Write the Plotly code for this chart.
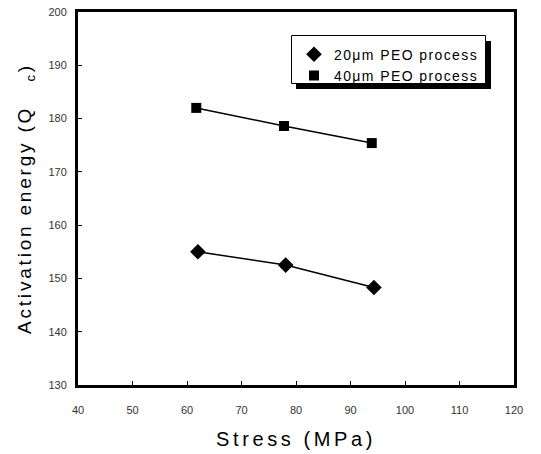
import plotly.graph_objects as go

# ---- data ----
stress_20 = [62.0, 78.1, 94.3]
q_20 = [155.0, 152.5, 148.3]
stress_40 = [61.7, 77.8, 93.9]
q_40 = [182.0, 178.6, 175.4]
name_20 = "20μm PEO process"
name_40 = "40μm PEO process"
x_ticks = [40, 50, 60, 70, 80, 90, 100, 110, 120]
y_ticks = [130, 140, 150, 160, 170, 180, 190, 200]

W, H = 541, 454
ML, MR, MT, MB = 78, 27, 12, 69
PW, PH = W - ML - MR, H - MT - MB


def px(x):
    return (x - ML) / PW


def py(y):
    return 1 - (y - MT) / PH


FONT = "Liberation Sans, Arial, sans-serif"
LEG = '<span style="letter-spacing:1.4px">%s</span>'

fig = go.Figure()
# lines
fig.add_trace(go.Scatter(x=stress_20, y=q_20, mode="lines", line=dict(color="black", width=1.5),
                         showlegend=False, hoverinfo="skip"))
fig.add_trace(go.Scatter(x=stress_40, y=q_40, mode="lines", line=dict(color="black", width=1.5),
                         showlegend=False, hoverinfo="skip"))
# markers
fig.add_trace(go.Scatter(x=stress_20, y=q_20, mode="markers", name=LEG % name_20,
                         marker=dict(symbol="diamond", size=12, color="black")))
fig.add_trace(go.Scatter(x=stress_40, y=q_40, mode="markers", name=LEG % name_40,
                         marker=dict(symbol="square", size=10, color="black")))

shapes = [
    dict(type="rect", xref="paper", yref="paper", x0=px(296), x1=px(491), y0=py(89), y1=py(41),
         fillcolor="black", line=dict(width=0), layer="above"),
    dict(type="rect", xref="paper", yref="paper", x0=px(291.5), x1=px(485.5), y0=py(83.5), y1=py(35.5),
         fillcolor="white", line=dict(color="black", width=1), layer="above"),
]

axis_common = dict(showline=True, linewidth=3, linecolor="black", mirror=True, automargin=False,
                   showgrid=False, zeroline=False, ticks="inside", ticklen=4, tickwidth=1,
                   tickcolor="black", tickfont=dict(family=FONT, size=11, color="#333333"))

fig.update_layout(
    width=W, height=H,
    margin=dict(l=ML, r=MR, t=MT, b=MB),
    paper_bgcolor="white", plot_bgcolor="white",
    shapes=shapes,
    showlegend=True,
    legend=dict(x=px(294), y=py(38.7), xanchor="left", yanchor="top",
                bgcolor="rgba(0,0,0,0)", borderwidth=0,
                font=dict(family=FONT, size=14, color="black"), tracegroupgap=0),
    xaxis=dict(range=[40, 120], tickvals=x_ticks, ticklabelstandoff=13,
               title=dict(text='<span style="letter-spacing:3.6px">Stress (MPa)</span>',
                          font=dict(family=FONT, size=20, color="black"), standoff=17),
               **axis_common),
    yaxis=dict(range=[130, 200], tickvals=y_ticks, ticklabelstandoff=6,
               title=dict(text='<span style="letter-spacing:2.8px">Activation energy (Q\u00a0\u00a0\u00a0<sub>c</sub>)</span>',
                          font=dict(family=FONT, size=19, color="black"), standoff=12),
               **axis_common),
)

fig.write_html("out.html")
